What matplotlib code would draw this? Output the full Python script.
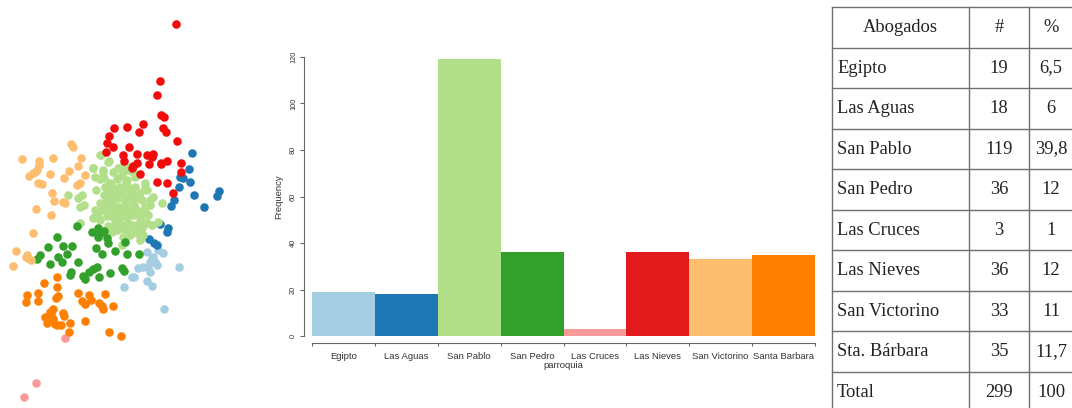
import matplotlib.pyplot as plt

W, H = 1072, 408

# bar chart data
parroquias = ['Egipto', 'Las Aguas', 'San Pablo', 'San Pedro', 'Las Cruces',
              'Las Nieves', 'San Victorino', 'Santa Barbara']
frequency = [19, 18, 119, 36, 3, 36, 33, 35]
bar_colors = ['#a6cee3', '#1f78b4', '#b2df8a', '#33a02c', '#fb9a99',
              '#e31a1c', '#fdbf6f', '#ff7f00']
y_ticks = [0, 20, 40, 60, 80, 100, 120]

# table data
table_header = ['Abogados', '#', '%']
table_names = ['Egipto', 'Las Aguas', 'San Pablo', 'San Pedro', 'Las Cruces',
               'Las Nieves', 'San Victorino', 'Sta. Bárbara', 'Total']
table_counts = ['19', '18', '119', '36', '3', '36', '33', '35', '299']
table_pct = ['6,5', '6', '39,8', '12', '1', '12', '11', '11,7', '100']

# scatter points (x, y in pixels, y grows downward)
egipto_pts = [(163.3, 253.3), (147.3, 251.7), (153.3, 257.3), (155, 261.7),
              (151.7, 259.3), (142.7, 266.7), (148.3, 266.7), (150, 271.7),
              (179, 266.7), (134, 276.7), (132.3, 277.3), (146.7, 280.7),
              (151.7, 285.7), (124.3, 287.3), (164.3, 309.3), (158, 250),
              (150, 262), (138, 268), (157, 265)]
aguas_pts = [(192.3, 152.7), (188.7, 169.3), (182.7, 178.3), (190, 181.7),
             (178.7, 187.3), (174, 200), (171.3, 206), (194.3, 195),
             (204, 206.7), (216.7, 196), (218.7, 191), (160.3, 224),
             (167.7, 228.3), (167.3, 231.7), (149.3, 239.3), (154, 242.7),
             (156.7, 245), (180, 176.7)]
pablo_pts = [(100.7, 155), (109.3, 160.7), (93.3, 168.3), (103.3, 171.7),
             (113.3, 171.7), (121.7, 166.7), (130, 166.7), (133.3, 171.7),
             (121.7, 175), (116.7, 179.3), (126.7, 180), (135, 176.7),
             (100, 179.3), (95, 176.7), (110, 182.7), (105, 186.7),
             (113.3, 186.7), (120, 186.7), (128.3, 186.7), (135, 186.7),
             (145, 183.3), (108.3, 191.7), (115, 191.7), (123.3, 192.7),
             (131.7, 193.3), (140, 192.7), (146.7, 190), (153.3, 196.7),
             (161.7, 203.3), (141.7, 200), (106.7, 198.3), (111.7, 200),
             (118.3, 198.3), (126.7, 198.3), (133.3, 200), (125, 205),
             (131.7, 206), (120, 206.7), (113.3, 206), (106.7, 205),
             (100, 203.3), (95, 210), (101.7, 210), (110, 210),
             (116.7, 211.7), (123.3, 211.7), (130, 210), (136.7, 210),
             (145, 206.7), (148.3, 215), (140, 215), (133.3, 215),
             (126.7, 216.7), (120, 218.3), (113.3, 216.7), (106.7, 216),
             (98.3, 216.7), (93.3, 218.3), (141.7, 221.7), (146.7, 223.3),
             (136.7, 225), (128.3, 222.7), (121.7, 225), (115, 223.3),
             (125, 229.3), (133.3, 230), (141.7, 228.3), (116.7, 230),
             (110, 228.3), (130, 235), (137.3, 233.3), (123.3, 236.7),
             (84, 205), (81.7, 195), (80, 223.3), (158.3, 221.7),
             (151.7, 225), (143.3, 235), (150, 205),
             (68.3, 195), (78.3, 198.3), (80, 207), (100, 155), (108, 162),
             (93, 168), (103, 170), (110, 185), (96.7, 211.7), (106.7, 200),
             (113.3, 193.3), (116.7, 206.7), (118, 178), (126, 182),
             (131, 190), (120, 192), (112, 203), (125, 200), (134, 205),
             (128, 212), (117, 220), (108, 226), (121, 228), (132, 225),
             (140, 218), (145, 212), (150, 200), (138, 198), (145, 188),
             (136, 175), (128, 170), (118, 168), (104, 178), (96, 190),
             (104, 195), (100, 220), (112, 232), (128, 235), (140, 240),
             (122, 245)]
pedro_pts = [(76.7, 226), (98.3, 228.3), (100, 233.3), (98.3, 237.3),
             (107.3, 238.3), (108.3, 243.3), (56.7, 237.3), (48.3, 247.3),
             (63.3, 246), (72.3, 246), (40, 255), (37.3, 259.3),
             (58.3, 257.3), (66.7, 254.3), (50, 264), (101.7, 254),
             (115, 250.7), (126.7, 254), (71, 271.7), (70, 275),
             (89.3, 271.7), (96.7, 266.7), (92.7, 269.3), (85, 279.3),
             (99.3, 276.7), (110, 273.3), (121.7, 268.3), (124, 270.7),
             (125, 241.7), (139, 254.3), (92, 232), (104, 231), (78, 262),
             (62, 262), (83, 276), (96, 248)]
cruces_pts = [(65, 337.7), (35.7, 382.7), (24, 397.3)]
nieves_pts = [(175.7, 24), (160.3, 80.7), (157.3, 95), (161.3, 115),
              (164, 116.7), (163.3, 128.3), (166, 131.7), (176.7, 141),
              (113.7, 128.3), (127.3, 127.3), (143.3, 124.3), (138.7, 131.7),
              (108.7, 135.7), (107.3, 143.3), (113.3, 146.7), (106, 151.7),
              (129, 146.7), (137.3, 154), (123.3, 155), (124, 160.7),
              (146.7, 155.3), (153.3, 154.3), (149.3, 164), (161, 162.7),
              (166.7, 161.3), (160.7, 164.3), (136.7, 163.3), (132.7, 165.7),
              (140, 174.3), (156.7, 181.7), (166.7, 182.7), (181.3, 162.7),
              (181.3, 172.3), (172.7, 193.3), (131.7, 167.7), (151.7, 156.7)]
victorino_pts = [(70.7, 144), (73.3, 147.3), (21.7, 159.3), (53.3, 158.3),
                 (80.7, 158.3), (39.3, 165), (36.7, 170), (33.3, 173.3),
                 (29.3, 176), (50, 174), (78.3, 166), (69, 170.7),
                 (64, 178.3), (85, 175), (80, 182.7), (76.7, 185.3),
                 (38.3, 182.7), (41.7, 184), (51.7, 193.3), (54, 200.7),
                 (62.7, 201.7), (65, 203.3), (35.7, 209.3), (50.7, 215),
                 (32.7, 232.7), (15.7, 250.7), (26.7, 255), (28.3, 258.3),
                 (30.7, 260), (13.3, 265.7), (35, 171.7), (26, 256.7),
                 (39.3, 161)]
barbara_pts = [(56.7, 277.3), (44.3, 282.7), (56.7, 286.7), (26.7, 295),
               (38.3, 292.7), (56, 298.3), (58.3, 295.7), (26, 302.3),
               (38.3, 301), (78.3, 292.7), (89.3, 295), (105, 294),
               (81.7, 300.7), (85, 304), (99.3, 302.7), (101.7, 306),
               (103.3, 309.3), (113.3, 306), (53.3, 309.3), (50.7, 314),
               (63.3, 313.3), (64, 316), (45, 316.7), (46.7, 322.7),
               (52.7, 319.3), (56.7, 325), (60.7, 325), (70, 323.3),
               (85, 320.7), (69, 332.3), (109, 332.3), (120.7, 336),
               (50, 311.7), (90.7, 300), (55, 324)]

scatter_groups = [egipto_pts, aguas_pts, pablo_pts, pedro_pts, cruces_pts,
                  nieves_pts, victorino_pts, barbara_pts]
scatter_colors = ['#a6cee3', '#1f78b4', '#b2df8a', '#33a02c', '#fb9a99',
                  '#f20d0d', '#fdbf6f', '#ff7f00']

SANS = ['Liberation Sans', 'DejaVu Sans']


def draw_scatter(fig):
    # left panel, no axes, just the coloured points
    ax = fig.add_axes([0, 0, 240 / W, 1])
    for pts, c in zip(scatter_groups, scatter_colors):
        xs = [p[0] for p in pts]
        ys = [p[1] for p in pts]
        ax.scatter(xs, ys, s=38, color=c, linewidths=0)
    ax.set_xlim(0, 240)
    ax.set_ylim(H, 0)
    ax.axis('off')


def draw_bars(fig):
    # R style barplot, bars touching, detached axes
    ax = fig.add_axes([312 / W, (H - 336) / H, 503 / W, 279 / H])
    pos = list(range(len(frequency)))
    ax.bar(pos, frequency, width=1, align='edge', color=bar_colors,
           linewidth=0)
    ax.set_xlim(0, len(frequency))
    ax.set_ylim(0, 120)

    for s in ['top', 'right']:
        ax.spines[s].set_visible(False)
    axis_c = '#666666'
    ax.spines['left'].set_position(('outward', 5.8))
    ax.spines['bottom'].set_position(('outward', 5))
    ax.spines['left'].set_bounds(0, 120)
    for s in ['left', 'bottom']:
        ax.spines[s].set_color(axis_c)
        ax.spines[s].set_linewidth(0.8)

    ax.set_yticks(y_ticks)
    ax.set_yticklabels([str(v) for v in y_ticks], rotation=90, va='center',
                       family=SANS)
    ax.tick_params(axis='y', length=3, width=0.8, color=axis_c,
                   labelsize=5.3, labelcolor='#333333', pad=2)

    # boundaries get the ticks, centres get the names
    ax.set_xticks(list(range(len(frequency) + 1)))
    ax.set_xticklabels([])
    ax.set_xticks([p + 0.5 for p in pos], minor=True)
    ax.set_xticklabels(parroquias, minor=True, family=SANS)
    ax.tick_params(axis='x', which='major', length=2, width=0.8,
                   color=axis_c)
    ax.tick_params(axis='x', which='minor', length=0, labelsize=6.8,
                   labelcolor='#333333', pad=6.5)

    ax.set_xlabel('parroquia', fontsize=6.8, color='#333333', labelpad=0,
                  family=SANS)
    ax.set_ylabel('Frequency', fontsize=6.8, color='#333333', labelpad=5,
                  family=SANS)


def draw_table(fig):
    # table on the right, drawn in pixel coordinates
    ax = fig.add_axes([0, 0, 1, 1], facecolor='none')
    ax.set_xlim(0, W)
    ax.set_ylim(H, 0)
    ax.axis('off')

    top, row_h = 7.3, 40.5
    col_x = [832, 969, 1029]
    line_c = '#707070'
    n_rows = len(table_names) + 1
    for i in range(n_rows + 1):
        y = top + i * row_h
        ax.plot([col_x[0], W + 10], [y, y], color=line_c, lw=1.0,
                clip_on=False)
    for x in col_x:
        ax.plot([x, x], [top, top + n_rows * row_h], color=line_c, lw=1.0)

    font = dict(family='Liberation Serif', fontsize=13.3, color='#222222',
                va='center')
    yc = top + row_h / 2
    ax.text((col_x[0] + col_x[1]) / 2, yc, table_header[0], ha='center', **font)
    ax.text((col_x[1] + col_x[2]) / 2, yc, table_header[1], ha='center', **font)
    ax.text(1051, yc, table_header[2], ha='center', **font)
    for i, (name, cnt, pct) in enumerate(zip(table_names, table_counts,
                                             table_pct)):
        yc = top + (i + 1.5) * row_h
        ax.text(col_x[0] + 5, yc, name, ha='left', **font)
        ax.text((col_x[1] + col_x[2]) / 2, yc, cnt, ha='center', **font)
        ax.text(1051, yc, pct, ha='center', **font)


def main():
    fig = plt.figure(figsize=(W / 100, H / 100), dpi=100)
    draw_scatter(fig)
    draw_bars(fig)
    draw_table(fig)
    fig.savefig('out.png', dpi=100)
    plt.close(fig)


if __name__ == "__main__":
    main()
